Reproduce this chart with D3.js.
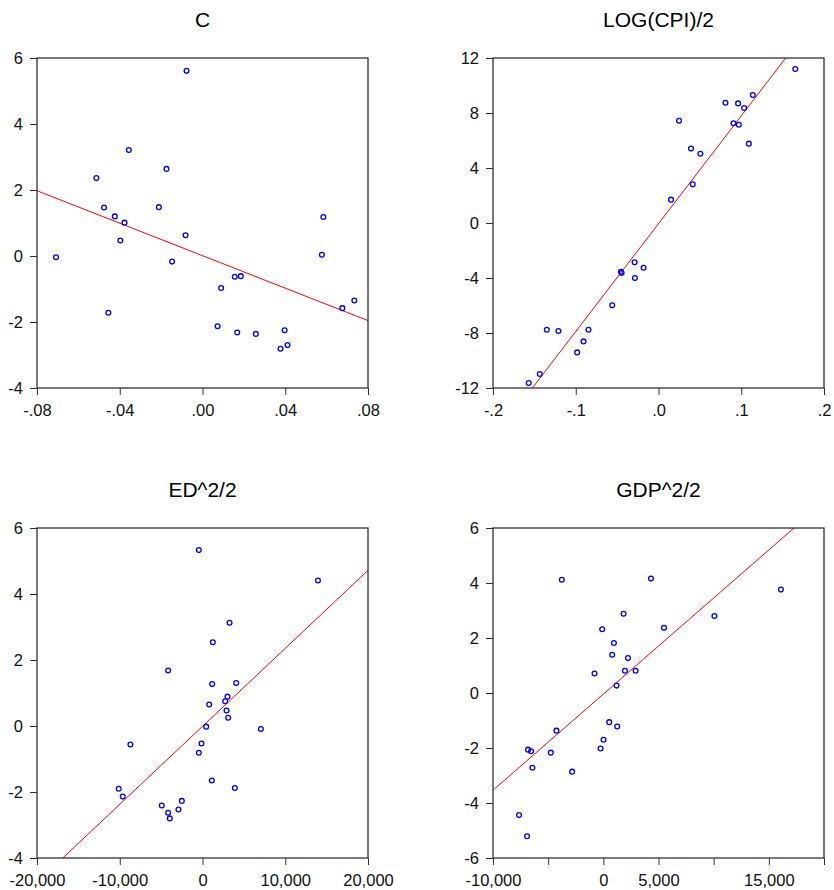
<!DOCTYPE html>
<html>
<head>
<meta charset="utf-8">
<script src="https://cdn.jsdelivr.net/npm/d3@7"></script>
<style>
  body { margin: 0; background: #fff; }
  svg { display: block; font-family: "Liberation Sans", Arial, sans-serif; }
</style>
</head>
<body>
<div id="chart"></div>
<script>
const width = 834;
const height = 890;

// panel 1: C
const cX = [-0.0708, -0.0513, -0.0476, -0.0424, -0.0377, -0.0397, -0.0356, -0.0455, -0.0211, -0.0174,
  -0.0077, -0.0082, -0.0147, 0.0073, 0.0090, 0.0156, 0.0185, 0.0168, 0.0258, 0.0377,
  0.0397, 0.0411, 0.0577, 0.0584, 0.0676, 0.0734];
const cY = [-0.04, 2.36, 1.47, 1.20, 1.01, 0.47, 3.21, -1.72, 1.48, 2.64,
  5.61, 0.63, -0.17, -2.13, -0.97, -0.63, -0.61, -2.32, -2.36, -2.81,
  -2.25, -2.70, 0.04, 1.18, -1.58, -1.35];

// panel 2: LOG(CPI)/2
const cpiX = [-0.1568, -0.1435, -0.1350, -0.1209, -0.0983, -0.0906, -0.0846, -0.0559, -0.0454, -0.0446,
  -0.0289, -0.0285, -0.0180, 0.0151, 0.0248, 0.0393, 0.0414, 0.0506, 0.0809, 0.0906,
  0.0971, 0.0962, 0.1035, 0.1140, 0.1092, 0.1653];
const cpiY = [-11.64, -10.98, -7.76, -7.85, -9.41, -8.61, -7.76, -5.99, -3.54, -3.64,
  -2.86, -4.00, -3.25, 1.70, 7.44, 5.41, 2.81, 5.04, 8.75, 7.25,
  7.15, 8.70, 8.36, 9.31, 5.77, 11.20];

// panel 3: ED^2/2
const edX = [-444, 13952, 3266, 1250, -4153, 1169, 4073, 3024, 2742, 806,
  2903, 3105, 444, 7056, -8710, -121, -444, 1129, 3911, -10121,
  -9637, -2500, -4919, -2903, -4153, -3952];
const edY = [5.33, 4.41, 3.13, 2.54, 1.68, 1.27, 1.30, 0.89, 0.75, 0.65,
  0.47, 0.25, -0.02, -0.09, -0.56, -0.53, -0.81, -1.65, -1.88, -1.90,
  -2.14, -2.27, -2.41, -2.53, -2.63, -2.80];

// panel 4: GDP^2/2
const gdpX = [-3764, 4318, 16093, 1836, 10069, -102, 5498, 958, 806, 2229,
  -798, 1957, 2925, 1200, 534, 1260, -4249, 20, -253, -6822,
  -6549, -4763, -6428, -2826, -7639, -6912];
const gdpY = [4.12, 4.16, 3.76, 2.88, 2.80, 2.32, 2.37, 1.82, 1.39, 1.27,
  0.71, 0.81, 0.81, 0.27, -1.06, -1.22, -1.37, -1.70, -2.02, -2.06,
  -2.12, -2.17, -2.72, -2.86, -4.44, -5.21];

// fitted lines [intercept, slope]
const cFit = [0.01, -24.6];
const cpiFit = [-0.05, 78.4];
const edFit = [-0.01, 0.0002363];
const gdpFit = [-0.04, 0.0003495];

const titles = ["C", "LOG(CPI)/2", "ED^2/2", "GDP^2/2"];
const xDomains = [[-0.08, 0.08], [-0.2, 0.2], [-20000, 20000], [-10000, 20000]];
const yDomains = [[-4, 6], [-12, 12], [-4, 6], [-6, 6]];
const xTicks = [[-0.08, -0.04, 0, 0.04, 0.08], [-0.2, -0.1, 0, 0.1, 0.2],
  [-20000, -10000, 0, 10000, 20000], [-10000, -5000, 0, 5000, 10000, 15000, 20000]];
const yTicks = [[-4, -2, 0, 2, 4, 6], [-12, -8, -4, 0, 4, 8, 12],
  [-4, -2, 0, 2, 4, 6], [-6, -4, -2, 0, 2, 4, 6]];
const xLabels = [["-.08", "-.04", ".00", ".04", ".08"], ["-.2", "-.1", ".0", ".1", ".2"],
  ["-20,000", "-10,000", "0", "10,000", "20,000"], ["-10,000", "", "0", "5,000", "", "15,000", ""]];

const panels = [
  { xs: cX, ys: cY, fit: cFit, left: 37, top: 58 },
  { xs: cpiX, ys: cpiY, fit: cpiFit, left: 493, top: 58 },
  { xs: edX, ys: edY, fit: edFit, left: 37, top: 528 },
  { xs: gdpX, ys: gdpY, fit: gdpFit, left: 493, top: 528 }
];
const pw = 331, ph = 330;

const svg = d3.select("#chart").append("svg")
    .attr("width", width)
    .attr("height", height);

panels.forEach((p, i) => {
    const x = d3.scaleLinear().domain(xDomains[i]).range([p.left, p.left + pw]);
    const y = d3.scaleLinear().domain(yDomains[i]).range([p.top + ph, p.top]);
    const g = svg.append("g");

    g.append("text")
        .attr("x", p.left + pw / 2)
        .attr("y", p.top - 31)
        .attr("text-anchor", "middle")
        .attr("font-size", 21)
        .attr("fill", "#000")
        .text(titles[i]);

    g.append("clipPath").attr("id", "clip" + i)
        .append("rect")
        .attr("x", p.left).attr("y", p.top)
        .attr("width", pw).attr("height", ph);

    // fitted line
    const x0 = xDomains[i][0], x1 = xDomains[i][1];
    g.append("line")
        .attr("clip-path", "url(#clip" + i + ")")
        .attr("x1", x(x0)).attr("y1", y(p.fit[0] + p.fit[1] * x0))
        .attr("x2", x(x1)).attr("y2", y(p.fit[0] + p.fit[1] * x1))
        .attr("stroke", "#ff0000")
        .attr("stroke-width", 1);

    g.append("g")
        .selectAll("circle")
        .data(p.xs.map((v, k) => [v, p.ys[k]]))
        .join("circle")
        .attr("cx", d => x(d[0]))
        .attr("cy", d => y(d[1]))
        .attr("r", 2.4)
        .attr("fill", "none")
        .attr("stroke", "#0000ff")
        .attr("stroke-width", 1.3);

    const xAxis = g.append("g")
        .attr("transform", `translate(0,${p.top + ph})`)
        .call(d3.axisBottom(x).tickValues(xTicks[i])
            .tickFormat((d, k) => xLabels[i][k]).tickSize(7).tickPadding(9));
    const yAxis = g.append("g")
        .attr("transform", `translate(${p.left},0)`)
        .call(d3.axisLeft(y).tickValues(yTicks[i])
            .tickFormat(d3.format("d")).tickSize(7).tickPadding(7));

    [xAxis, yAxis].forEach(a => {
        a.select(".domain").remove();
        a.selectAll("line").attr("stroke", "#333");
        a.selectAll("text")
            .attr("font-family", "Liberation Sans, Arial, sans-serif")
            .attr("font-size", 16.5)
            .attr("fill", "#111");
    });
    yAxis.selectAll("text").text(d => d3.format("d")(d).replace("−", "-"));

    g.append("rect")
        .attr("x", p.left).attr("y", p.top)
        .attr("width", pw).attr("height", ph)
        .attr("fill", "none")
        .attr("stroke", "#333")
        .attr("stroke-width", 1.3);
});
</script>
</body>
</html>
